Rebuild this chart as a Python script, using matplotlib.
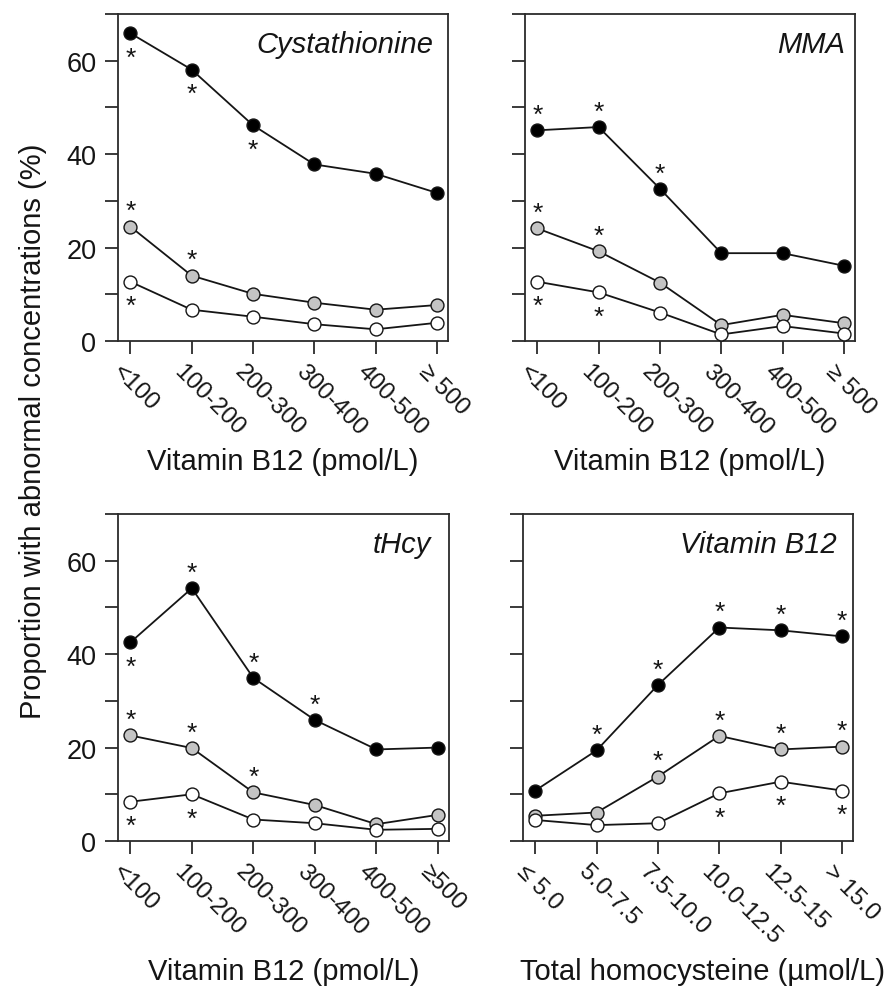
import matplotlib
matplotlib.use("Agg")
import matplotlib.pyplot as plt
import numpy as np

plt.rcParams['font.family'] = ['Liberation Sans', 'DejaVu Sans']

# ---------------- data ----------------
b12_labels_a = ["<100", "100-200", "200-300", "300-400", "400-500", "\u2265 500"]
b12_labels_b = ["<100", "100-200", "200-300", "300-400", "400-500", "\u2265500"]
hcy_labels = ["\u2264 5.0", "5.0-7.5", "7.5-10.0", "10.0-12.5", "12.5-15", "> 15.0"]

titles = ["Cystathionine", "MMA", "tHcy", "Vitamin B12"]
xlabels = ["Vitamin B12 (pmol/L)", "Vitamin B12 (pmol/L)",
           "Vitamin B12 (pmol/L)", "Total homocysteine (\u00b5mol/L)"]

# Cystathionine
cys_black = [65.9, 58.1, 46.2, 37.8, 35.8, 31.7]
cys_gray = [24.5, 14.0, 10.1, 8.2, 6.7, 7.7]
cys_white = [12.7, 6.7, 5.2, 3.6, 2.5, 3.9]
cys_black_star = [-1, -1, -1, 0, 0, 0]
cys_gray_star = [1, 1, 0, 0, 0, 0]
cys_white_star = [-1, 0, 0, 0, 0, 0]

# MMA
mma_black = [45.1, 45.8, 32.6, 18.8, 18.8, 16.1]
mma_gray = [24.1, 19.2, 12.5, 3.4, 5.6, 3.8]
mma_white = [12.7, 10.4, 6.1, 1.4, 3.2, 1.6]
mma_black_star = [1, 1, 1, 0, 0, 0]
mma_gray_star = [1, 1, 0, 0, 0, 0]
mma_white_star = [-1, -1, 0, 0, 0, 0]

# tHcy
hcy_black = [42.5, 54.1, 34.9, 25.9, 19.6, 20.0]
hcy_gray = [22.6, 19.9, 10.4, 7.7, 3.6, 5.6]
hcy_white = [8.4, 10.0, 4.6, 3.8, 2.4, 2.6]
hcy_black_star = [-1, 1, 1, 1, 0, 0]
hcy_gray_star = [1, 1, 1, 0, 0, 0]
hcy_white_star = [-1, -1, 0, 0, 0, 0]

# Vitamin B12 (by total homocysteine)
vb_black = [10.8, 19.4, 33.4, 45.7, 45.1, 43.8]
vb_gray = [5.4, 6.1, 13.8, 22.5, 19.6, 20.2]
vb_white = [4.5, 3.4, 3.8, 10.2, 12.7, 10.8]
vb_black_star = [0, 1, 1, 1, 1, 1]
vb_gray_star = [0, 0, 1, 1, 1, 1]
vb_white_star = [0, 0, 0, -1, -1, -1]

panels = [
    (b12_labels_a, [(cys_black, cys_black_star), (cys_gray, cys_gray_star), (cys_white, cys_white_star)]),
    (b12_labels_a, [(mma_black, mma_black_star), (mma_gray, mma_gray_star), (mma_white, mma_white_star)]),
    (b12_labels_b, [(hcy_black, hcy_black_star), (hcy_gray, hcy_gray_star), (hcy_white, hcy_white_star)]),
    (hcy_labels, [(vb_black, vb_black_star), (vb_gray, vb_gray_star), (vb_white, vb_white_star)]),
]

fills = ["black", "#c4c4c4", "white"]
spine_color = "#2b2b2b"
ink = "#151515"

W, H = 896, 987
fig = plt.figure(figsize=(W / 100, H / 100), dpi=100)

# axes boxes in pixel coords: left, top, right, bottom
boxes = [(118, 15, 448, 342), (525, 15, 855, 342),
         (118, 515, 449, 842), (523, 515, 853, 842)]
xlabel_pos = [(0.5, -0.367), (0.5, -0.367), (0.5, -0.398), (0.545, -0.398)]
title_x = [0.955, 0.97, 0.945, 0.95]

for i, ((l, t, r, b), (labels, series)) in enumerate(zip(boxes, panels)):
    ax = fig.add_axes([l / W, 1 - b / H, (r - l) / W, (b - t) / H])
    x = np.arange(len(labels))
    for (vals, stars), fc in zip(series, fills):
        ax.plot(x, vals, color=ink, lw=1.3, marker="o", ms=9.3,
                mfc=fc, mec=ink, mew=1.0, zorder=3)
        for xi, v, s in zip(x, vals, stars):
            if s != 0:
                dy = 6.0 if s > 0 else -22.5
                ax.annotate("*", (xi, v), xytext=(0, dy),
                            textcoords="offset points", ha="center",
                            va="baseline", fontsize=19, color=ink)
    ax.set_xlim(-0.2, 5.18)
    ax.set_ylim(0, 70)
    ax.set_yticks(np.arange(0, 71, 10))
    ax.set_yticklabels(["0", "", "20", "", "40", "", "60", ""] if i % 2 == 0 else [""] * 8)
    ax.set_xticks(x)
    ax.set_xticklabels([""] * len(labels))
    # rotated category labels placed below each tick
    for xi, lab in zip(x, labels):
        ax.annotate(lab, (xi, 0), xycoords=("data", "axes fraction"),
                    xytext=(-10.5, -19.0), textcoords="offset points",
                    rotation=-45, ha="left", va="center",
                    rotation_mode="anchor", fontsize=17.5, color=ink,
                    annotation_clip=False)
    ax.tick_params(axis="both", direction="out", length=9.5, width=1.3,
                   color=spine_color, pad=6, labelcolor=ink)
    ax.tick_params(axis="y", labelsize=19.5)
    for sp in ax.spines.values():
        sp.set_color(spine_color)
        sp.set_linewidth(1.3)
    ax.text(title_x[i], 0.908, titles[i], transform=ax.transAxes, ha="right",
            va="center", fontsize=21, style="italic", color=ink)
    ax.set_xlabel(xlabels[i], fontsize=21, color=ink)
    ax.xaxis.label.set_va("center")
    ax.xaxis.set_label_coords(*xlabel_pos[i])

fig.text(33 / W, 1 - 431 / H, "Proportion with abnormal concentrations (%)",
         rotation=90, ha="center", va="center", fontsize=21, color=ink)

fig.savefig("out.png", dpi=100, facecolor="white")
